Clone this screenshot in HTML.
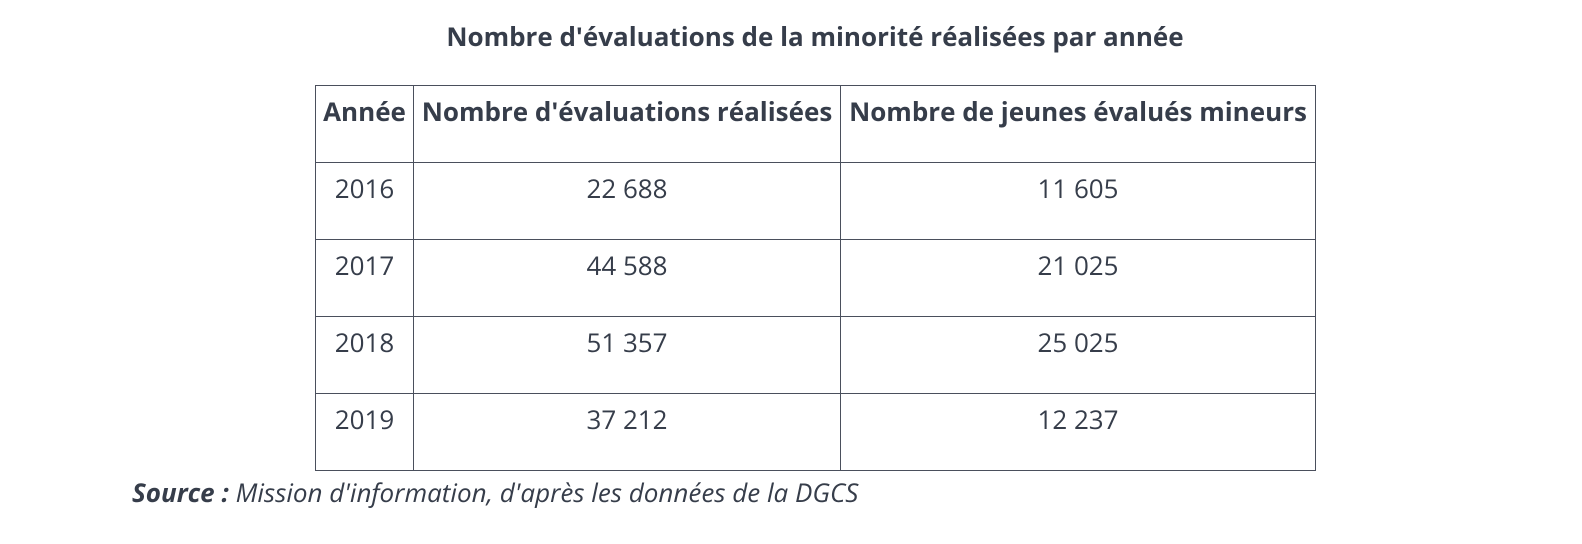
<!DOCTYPE html>
<html><head><meta charset="utf-8"><style>
body{margin:0;width:1582px;height:544px;background:#fff;font-family:"Open Sans","Liberation Sans",sans-serif;color:#363d4a;position:relative;overflow:hidden}
.title{position:absolute;left:0;width:1630px;top:18px;text-align:center;font-weight:bold;font-size:26px;line-height:36px}
table{position:absolute;left:315px;top:85px;border-collapse:collapse;font-size:26px;table-layout:fixed;width:1000px}
td,th{border:1px solid #4a4f5c;height:77px;box-sizing:border-box;padding:0;vertical-align:top;text-align:center;line-height:36px}
th{padding-top:7px;font-weight:bold;white-space:nowrap}
td{padding-top:7px}
.src{position:absolute;left:132px;top:474px;font-size:26px;line-height:36px;font-style:italic}
</style></head><body>
<div class="title">Nombre d'évaluations de la minorité réalisées par année</div>
<table>
<colgroup><col style="width:98px"><col style="width:427px"><col style="width:475px"></colgroup>
<tr><th>Année</th><th>Nombre d'évaluations réalisées</th><th>Nombre de jeunes évalués mineurs</th></tr>
<tr><td>2016</td><td>22 688</td><td>11 605</td></tr>
<tr><td>2017</td><td>44 588</td><td>21 025</td></tr>
<tr><td>2018</td><td>51 357</td><td>25 025</td></tr>
<tr><td>2019</td><td>37 212</td><td>12 237</td></tr>
</table>
<div class="src"><b>Source :</b> Mission d'information, d'après les données de la DGCS</div>
</body></html>
